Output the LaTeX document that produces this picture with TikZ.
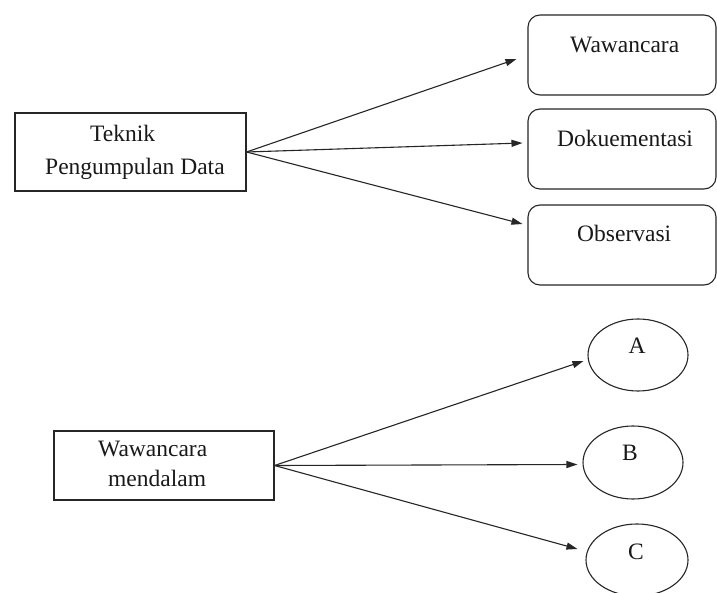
\documentclass[tikz,border=0pt]{standalone}
\usepackage{fontspec}
\setmainfont{Liberation Serif}
\usetikzlibrary{arrows.meta,shapes.geometric}
\begin{document}
\begin{tikzpicture}[x=1pt,y=-1pt,
  line/.style={line width=1.1pt, draw=black!85},
  sqbox/.style={line, rectangle, inner sep=0pt},
  rbox/.style={line, rectangle, rounded corners=12pt, inner sep=0pt, minimum width=188pt, minimum height=80pt},
  oval/.style={line, ellipse, inner sep=0pt},
  txt/.style={inner sep=0pt, anchor=base west, text=black!90, font=\fontsize{23.5}{27}\selectfont},
  ctxt/.style={inner sep=0pt, anchor=base, text=black!90, font=\fontsize{23.5}{27}\selectfont},
  arr/.style={line, -{Triangle[length=11pt,width=7pt]}}
]
\fill[white] (0,0) rectangle (717,593);
\useasboundingbox (0,0) rectangle (717,593);

% first group
\node[sqbox, minimum width=231pt, minimum height=78pt] (b1) at (130.5,152) {};
\node[txt] (b1a) at (90,142) {Teknik};
\node[txt] (b1b) at (45,175) {Pengumpulan Data};

\node[rbox] (r1) at (622,55) {};
\node[rbox] (r2) at (622,149) {};
\node[rbox] (r3) at (622,245) {};
\node[txt] (r1t) at (570,53) {Wawancara};
\node[txt] (r2t) at (557,147) {Dokuementasi};
\node[txt] (r3t) at (577,242) {Observasi};

\draw[arr] (b1.east) -- ([shift={(-11,4)}]r1.west);
\draw[arr] (b1.east) -- ([shift={(-5,-6)}]r2.west);
\draw[arr] (b1.east) -- ([shift={(-5,-21)}]r3.west);

% second group
\node[sqbox, minimum width=220pt, minimum height=69pt] (b2) at (164,465.5) {};
\node[txt] (b2a) at (98,456) {Wawancara};
\node[txt] (b2b) at (108,486) {mendalam};

\node[oval, minimum width=100pt, minimum height=72pt] (eA) at (638,355) {};
\node[oval, minimum width=100pt, minimum height=73pt] (eB) at (633,462.5) {};
\node[oval, minimum width=102pt, minimum height=72pt] (eC) at (637,560) {};
\node[ctxt] (eAt) at (637,353) {A};
\node[ctxt] (eBt) at (630,460) {B};
\node[ctxt] (eCt) at (636,559) {C};

\draw[arr] (b2.east) -- ([shift={(-4,6)}]eA.west);
\draw[arr] (b2.east) -- ([shift={(-5,2)}]eB.west);
\draw[arr] (b2.east) -- ([shift={(-8,-11)}]eC.west);
\end{tikzpicture}
\end{document}
